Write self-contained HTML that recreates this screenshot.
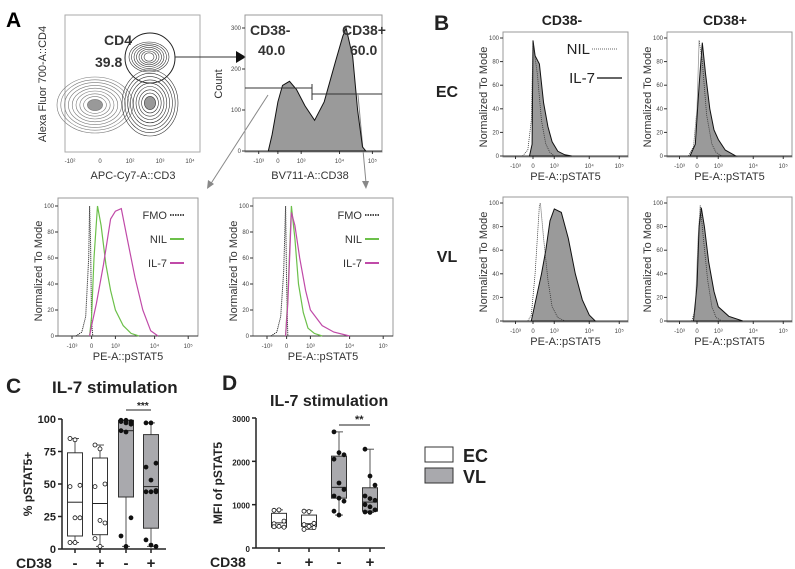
<!DOCTYPE html>
<html><head><meta charset="utf-8"><style>
html,body{margin:0;padding:0;background:#fff}
svg{display:block;font-family:"Liberation Sans",Arial,sans-serif}
.b{font-weight:bold}
</style></head><body>
<svg id="s" width="795" height="569" viewBox="0 0 795 569">
<g>
<text x="6" y="27" font-size="21" class="b">A</text>
<rect x="65" y="15" width="135" height="137" fill="none" stroke="#aaa"/>
<text x="104" y="45" font-size="14" class="b" fill="#333">CD4</text>
<text x="95" y="67" font-size="14" class="b" fill="#333">39.8</text>
<circle cx="150" cy="58" r="25" fill="none" stroke="#222" stroke-width="1"/>
<text transform="translate(46,84) rotate(-90)" text-anchor="middle" font-size="11" fill="#333">Alexa Fluor 700-A::CD4</text>
<text x="133" y="179" text-anchor="middle" font-size="11" fill="#333">APC-Cy7-A::CD3</text>
<line x1="175" y1="57" x2="236" y2="57" stroke="#333"/>
<polygon points="236,51 246,57 236,63" fill="#111"/>
<rect x="245" y="15" width="137" height="137" fill="none" stroke="#aaa"/>
<text transform="translate(222,84) rotate(-90)" text-anchor="middle" font-size="11" fill="#333">Count</text>
<text x="310" y="179" text-anchor="middle" font-size="11" fill="#333">BV711-A::CD38</text>
<line x1="268" y1="95" x2="210" y2="185" stroke="#888"/>
<polygon points="207,189 208,180 214,184" fill="#888"/>
<line x1="358" y1="95" x2="366" y2="183" stroke="#888"/>
<polygon points="366,189 362,181 369,181" fill="#888"/>
</g>
<g id="g"></g>
</svg>
<script>
// ---------- data ----------
const contourTicks = ["-10²","0","10²","10³","10⁴"];
const flowTicks = ["-10³","0","10³","10⁴","10⁵"];
const modeTicks = [0,20,40,60,80,100];
const countTicks = [0,100,200,300];
// CD38 histogram (u = log-axis units, h = count)
const cd38U = [-0.5,-0.3,0,0.2,0.5,0.8,1.1,1.35,1.6,1.9,2.1,2.2,2.4,2.55,2.7,2.8];
const cd38H = [0,40,120,160,170,150,110,75,120,220,280,300,230,100,10,0];
// Panel A lower histograms
const aLeftFmoU=[-0.8,-0.5,-0.3,-0.15,-0.1,-0.05,0.0,0.05];
const aLeftFmoH=[0,3,15,60,100,70,10,0];
const aLeftNilU=[-0.1,0,0.1,0.25,0.4,0.6,0.8,1.0,1.2,1.4,1.6];
const aLeftNilH=[0,15,60,100,85,55,35,20,8,2,0];
const aLeftIl7U=[-0.1,0,0.2,0.5,0.8,1.0,1.15,1.3,1.5,1.7,1.9,2.1];
const aLeftIl7H=[0,8,25,55,90,96,98,75,45,20,4,0];
const aRightFmoU=[-0.8,-0.5,-0.3,-0.15,-0.05,0.0,0.05];
const aRightFmoH=[0,3,15,50,100,40,0];
const aRightNilU=[-0.05,0.05,0.2,0.35,0.5,0.7,0.9,1.1,1.3];
const aRightNilH=[0,30,100,75,40,18,6,2,0];
const aRightIl7U=[-0.05,0.05,0.2,0.35,0.55,0.8,1.0,1.3,1.6,2.0];
const aRightIl7H=[0,25,95,85,60,35,20,8,3,0];
// Panel B histograms
const bEcNegNilU=[-0.6,-0.3,-0.1,0,0.2,0.4,0.6,0.8,1.0];
const bEcNegNilH=[0,5,30,95,70,30,10,3,0];
const bEcNegIl7U=[-0.2,-0.05,0,0.1,0.3,0.5,0.7,0.9,1.1,1.3,1.5];
const bEcNegIl7H=[0,10,98,85,78,45,25,12,4,1,0];
const bEcPosNilU=[-0.5,-0.2,0,0.1,0.25,0.45,0.7,0.9,1.1];
const bEcPosNilH=[0,8,40,98,80,35,10,3,0];
const bEcPosIl7U=[-0.4,-0.1,0.1,0.25,0.4,0.6,0.8,1.0,1.2,1.5];
const bEcPosIl7H=[0,10,60,96,70,40,22,14,5,0];
const bVlNegNilU=[-0.3,-0.1,0.1,0.3,0.35,0.5,0.7,0.9,1.1,1.3];
const bVlNegNilH=[0,5,40,98,100,70,35,12,3,0];
const bVlNegIl7U=[-0.1,0.1,0.4,0.6,0.8,1.0,1.2,1.4,1.6,1.8,2.0,2.2];
const bVlNegIl7H=[0,15,40,60,85,95,92,70,40,18,5,0];
const bVlPosNilU=[-0.3,-0.1,0.05,0.15,0.3,0.5,0.7,0.9,1.1];
const bVlPosNilH=[0,10,70,98,70,35,12,3,0];
const bVlPosIl7U=[-0.2,0,0.1,0.2,0.35,0.55,0.8,1.0,1.3,1.7];
const bVlPosIl7H=[0,30,80,96,80,50,25,12,4,0];
// Panel C (% pSTAT5+)
const groups = ["-","+","-","+"];
const cTicks=[0,25,50,75,100];
const cPts=[[85,84,49,48,24,24,5,5],[80,77,50,48,22,20,8,2],[99,99,98,98,97,96,91,90,24,10,2],[97,97,66,63,53,45,44,44,44,7,3,2]];
const cBox=[[5,10,36,74,85],[2,11,35,70,80],[2,40,91,99,99],[2,16,48,88,97]];
// Panel D (MFI)
const dTicks=[0,1000,2000,3000];
const dPts=[[870,880,620,560,500,480,490],[850,840,570,540,500,470,430],[2680,2200,2150,2050,1500,1350,1200,1150,1080,850,760],[2280,1660,1450,1200,1140,1100,1000,950,880,830,820]];
const dBox=[[480,480,580,800,880],[430,500,560,760,870],[760,1150,1400,2120,2680],[820,850,1060,1390,2280]];
const groupFill=["#fff","#fff","#a9a9ad","#a9a9ad"];

// ---------- helpers ----------
const NS="http://www.w3.org/2000/svg", G=document.getElementById('g');
function mk(t,a,p){const e=document.createElementNS(NS,t);for(const k in a)e.setAttribute(k,a[k]);(p||G).appendChild(e);return e;}
const fr=[0.10,0.24,0.41,0.69,0.93];
function uX(x0,w,u){const i=Math.max(0,Math.min(3,Math.floor(u+1)));const f=u+1-i;return x0+w*(fr[i]+(fr[i+1]-fr[i])*f);}
function curve(x0,w,yb,yt,maxv,U,H,style,name){
  let d='';U.forEach((u,i)=>{d+=(i?'L':'M')+uX(x0,w,u).toFixed(1)+','+(yb-(yb-yt)*H[i]/maxv).toFixed(1);});
  if(style.fill&&style.fill!=='none')d+='Z';
  const p=mk('path',Object.assign({d:d},style));
  
  
}
function flowFrame(x0,y0,w,h,yb,yt,ticks,maxv,xlab,ylab,name){
  const r=mk('rect',{x:x0,y:y0,width:w,height:h,fill:'none',stroke:'#999'});
  
  
  mk('line',{x1:x0,y1:yb,x2:x0+w,y2:yb,stroke:'#333','stroke-width':1});
  ticks.forEach(v=>{const y=yb-(yb-yt)*v/maxv;mk('line',{x1:x0-3,y1:y,x2:x0,y2:y,stroke:'#333'});
    const t=mk('text',{x:x0-4,y:y+2,'font-size':6,'text-anchor':'end',fill:'#444'});t.textContent=v;
    
    });
  flowTicks.forEach((s,i)=>{const x=x0+w*fr[i];mk('line',{x1:x,y1:yb,x2:x,y2:yb+3,stroke:'#333'});
    const t=mk('text',{x:x,y:yb+12,'font-size':6,'text-anchor':'middle',fill:'#444'});t.textContent=s;
    
    });
  if(xlab){const t=mk('text',{x:x0+w/2,y:yb+24,'font-size':11,'text-anchor':'middle',fill:'#333'});t.textContent=xlab;
    
    }
  if(ylab){const t=mk('text',{transform:`translate(${x0-16},${(yb+yt)/2}) rotate(-90)`,'font-size':11,'text-anchor':'middle',fill:'#333'});t.textContent=ylab;
    
    }
}
// ---------- contour plot ----------
[[95,105,38,28],[150,103,28,33]].forEach((c,k)=>{for(let i=0;i<9;i++){const e=mk('ellipse',{cx:c[0],cy:c[1],rx:c[2]*(1-i*0.1),ry:c[3]*(1-i*0.1),fill:i==8?'#999':'none',stroke:k?'#333':'#777','stroke-width':0.6});
  
  }});
for(let i=0;i<7;i++){const e=mk('ellipse',{cx:149,cy:57,rx:20-i*2.5,ry:15-i*1.8,fill:'none',stroke:'#333','stroke-width':0.6});
  
  }
contourTicks.forEach((s,i)=>{const x=70+i*30;const t=mk('text',{x:x,y:163,'font-size':6,'text-anchor':'middle',fill:'#444'});t.textContent=s;
  
  });
// ---------- CD38 histogram ----------
(function(){const x0=245,w=137,yb=151,yt=28;
 const ux=u=>({x:x0,w:w});
 flowFrame(x0,15,w,137,yb,yt,countTicks,300,null,null,'cd38-histogram');
 curve(x0,w,yb,yt,300,cd38U,cd38H,{fill:'#9a9a9a',stroke:'#111','stroke-width':1},'cd38-histogram-area');
 mk('path',{d:'M245,88H312M312,84V100M312,94H382',stroke:'#333',fill:'none'});
 [['CD38-',250,35],['40.0',258,55],['CD38+',342,35],['60.0',350,55]].forEach(a=>{const t=mk('text',{x:a[1],y:a[2],'font-size':14,'font-weight':'bold',fill:'#333'});t.textContent=a[0];
  
  });
})();
// ---------- lower A histograms ----------
function legendA(x,y){[['FMO','#111','1.5,1'],['NIL','#6cc04a',''],['IL-7','#c04aa8','']].forEach((l,i)=>{
  const t=mk('text',{x:x,y:y+i*24,'font-size':11,'text-anchor':'end',fill:'#333'});t.textContent=l[0];
  
  
  mk('line',{x1:x+3,y1:y-4+i*24,x2:x+17,y2:y-4+i*24,stroke:l[1],'stroke-width':i==0?1.5:2,'stroke-dasharray':l[2]});});}
flowFrame(58,198,140,138,336,206,modeTicks,100,'PE-A::pSTAT5','Normalized To Mode','a-cd38neg-hist');
curve(58,140,336,206,100,aLeftFmoU,aLeftFmoH,{fill:'none',stroke:'#111','stroke-dasharray':'1,1'},'fmo-line');
curve(58,140,336,206,100,aLeftNilU,aLeftNilH,{fill:'none',stroke:'#6cc04a','stroke-width':1.2},'nil-line');
curve(58,140,336,206,100,aLeftIl7U,aLeftIl7H,{fill:'none',stroke:'#c04aa8','stroke-width':1.2},'il7-line');
legendA(167,219);
flowFrame(253,198,140,138,336,206,modeTicks,100,'PE-A::pSTAT5','Normalized To Mode','a-cd38pos-hist');
curve(253,140,336,206,100,aRightFmoU,aRightFmoH,{fill:'none',stroke:'#111','stroke-dasharray':'1,1'},'fmo-line');
curve(253,140,336,206,100,aRightNilU,aRightNilH,{fill:'none',stroke:'#6cc04a','stroke-width':1.2},'nil-line');
curve(253,140,336,206,100,aRightIl7U,aRightIl7H,{fill:'none',stroke:'#c04aa8','stroke-width':1.2},'il7-line');
legendA(362,219);
// ---------- panel B ----------
[['B',434,30,21],['CD38-',562,25,14],['CD38+',725,25,14],['EC',447,97,16],['VL',447,262,16]].forEach(a=>{const t=mk('text',{x:a[1],y:a[2],'font-size':a[3],'font-weight':'bold','text-anchor':a[0]=='B'?'start':'middle',fill:'#222'});t.textContent=a[0];
  
  });
const bDefs=[[503,32,156,38,bEcNegNilU,bEcNegNilH,bEcNegIl7U,bEcNegIl7H,'b-ec-cd38neg'],[667,32,156,38,bEcPosNilU,bEcPosNilH,bEcPosIl7U,bEcPosIl7H,'b-ec-cd38pos'],
 [503,197,321,203,bVlNegNilU,bVlNegNilH,bVlNegIl7U,bVlNegIl7H,'b-vl-cd38neg'],[667,197,321,203,bVlPosNilU,bVlPosNilH,bVlPosIl7U,bVlPosIl7H,'b-vl-cd38pos']];
bDefs.forEach(b=>{flowFrame(b[0],b[1],125,b[2]-b[1]+1,b[2],b[3],modeTicks,100,'PE-A::pSTAT5','Normalized To Mode',b[8]);
 curve(b[0],125,b[2],b[3],100,b[6],b[7],{fill:'#9a9a9a',stroke:'#111','stroke-width':1},b[8]+'-il7');
 curve(b[0],125,b[2],b[3],100,b[4],b[5],{fill:'none',stroke:'#333','stroke-width':0.8,'stroke-dasharray':'1,1'},b[8]+'-nil');});
[['NIL',590,54,'1,1',0.8],['IL-7',595,83,'',1.5]].forEach(l=>{const t=mk('text',{x:l[1],y:l[2],'font-size':15,'text-anchor':'end',fill:'#222'});t.textContent=l[0];
 
 
 mk('line',{x1:l[1]+2,y1:l[2]-5,x2:l[1]+27,y2:l[2]-5,stroke:'#333','stroke-width':l[4],'stroke-dasharray':l[3]});});
// ---------- box plots ----------
function boxPanel(ax,yb,yt,maxv,ticks,xs,pts,box,ylab,name){
 const Y=v=>yb-(yb-yt)*v/maxv;
 mk('line',{x1:ax,y1:yt,x2:ax,y2:yb,stroke:'#222','stroke-width':1.5});
 mk('line',{x1:ax,y1:yb,x2:xs[3]+15,y2:yb,stroke:'#222','stroke-width':1.5});
 ticks.forEach(v=>{mk('line',{x1:ax-4,y1:Y(v),x2:ax,y2:Y(v),stroke:'#222','stroke-width':1.5});
  const t=mk('text',{x:ax-6,y:Y(v)+4,'font-size':maxv>200?8:11,'font-weight':'bold','text-anchor':'end',fill:'#222'});t.textContent=v;
  
  });
 xs.forEach((x,i)=>{mk('line',{x1:x,y1:yb,x2:x,y2:yb+4,stroke:'#222','stroke-width':1.5});
  const b=box[i],bw=15;
  const w=mk('line',{x1:x,y1:Y(b[0]),x2:x,y2:Y(b[4]),stroke:'#555'});
  
  
  mk('line',{x1:x-4,y1:Y(b[0]),x2:x+4,y2:Y(b[0]),stroke:'#555'});
  mk('line',{x1:x-4,y1:Y(b[4]),x2:x+4,y2:Y(b[4]),stroke:'#555'});
  const r=mk('rect',{x:x-bw/2,y:Y(b[3]),width:bw,height:Y(b[1])-Y(b[3]),fill:groupFill[i],stroke:'#333'});
  
  
  mk('line',{x1:x-bw/2,y1:Y(b[2]),x2:x+bw/2,y2:Y(b[2]),stroke:'#222'});
  pts[i].forEach((v,j)=>{const c=mk('circle',{cx:x+((j%3)-1)*5,cy:Y(v),r:2,fill:i<2?'#fff':'#111',stroke:'#111','stroke-width':0.8});
   
   });
  const t=mk('text',{x:x,y:yb+19,'font-size':15,'font-weight':'bold','text-anchor':'middle',fill:'#222'});t.textContent=groups[i];
  
  });
 const t=mk('text',{x:ax-46,y:yb+19,'font-size':14,'font-weight':'bold',fill:'#222'});t.textContent='CD38';
 
 
 const yl=mk('text',{transform:`translate(${ax-(maxv>200?34:30)},${(yb+yt)/2}) rotate(-90)`,'font-size':12,'font-weight':'bold','text-anchor':'middle',fill:'#222'});yl.textContent=ylab;
 
 
}
boxPanel(62,549,419,100,cTicks,[75,100,126,151],cPts,cBox,'% pSTAT5+','panel-c');
boxPanel(256,548,418,3000,dTicks,[279,309,339,370],dPts,dBox,'MFI of pSTAT5','panel-d');
[['C',6,393,21],['IL-7 stimulation',52,393,17],['D',222,390,21],['IL-7 stimulation',270,406,16],['***',137,409,10],['**',355,423,11],['EC',463,462,18],['VL',463,483,18]].forEach(a=>{const t=mk('text',{x:a[1],y:a[2],'font-size':a[3],'font-weight':'bold',fill:'#222'});t.textContent=a[0];
 
 });
mk('line',{x1:126,y1:410,x2:151,y2:410,stroke:'#222'});
mk('line',{x1:339,y1:425,x2:370,y2:425,stroke:'#222'});
const le=mk('rect',{x:425,y:447,width:28,height:15,fill:'#fff',stroke:'#333'});


const lv=mk('rect',{x:425,y:468,width:28,height:15,fill:'#a9a9ad',stroke:'#333'});


</script>
</body></html>
